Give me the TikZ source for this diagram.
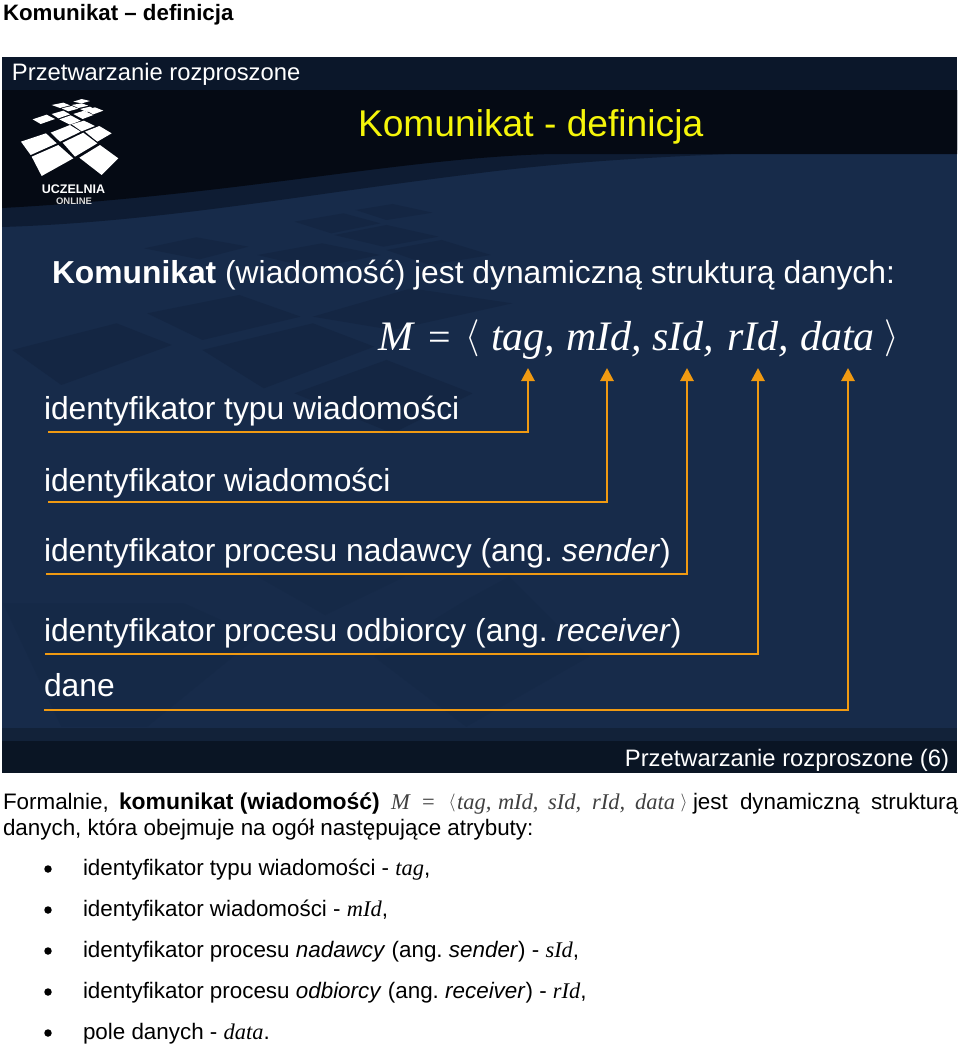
\documentclass[tikz,border=0pt]{standalone}
\usepackage{fontspec}
\setmainfont{Liberation Sans}
\newfontfamily\serifit{Liberation Serif}
\usetikzlibrary{arrows.meta}
\definecolor{slidebg}{HTML}{172B4A}
\definecolor{slidemid}{HTML}{0E1C33}
\definecolor{slidedark}{HTML}{050A14}
\definecolor{slidetop}{HTML}{0B172A}
\definecolor{slidefoot}{HTML}{0A1524}
\definecolor{slidefoott}{HTML}{122239}
\definecolor{tiledark}{HTML}{142643}
\definecolor{tilefaint}{HTML}{152947}
\definecolor{arrowor}{HTML}{F09A12}
\definecolor{ttl}{HTML}{F5F50A}
\tikzset{
  txt/.style={inner sep=0pt,outer sep=0pt,anchor=base west,text=#1},
  txt/.default=black,
  wt/.style={txt=white,font=\frenchspacing\fontsize{#1}{#1}\selectfont},
  bk/.style={txt=black,font=\frenchspacing\fontsize{#1}{#1}\selectfont},
  fm/.style={txt=white,font=\serifit\itshape\fontsize{42}{42}\selectfont},
  sm/.style={txt=black!75,font=\serifit\itshape\fontsize{22.5}{22.5}\selectfont},
  bigbr/.style={inner sep=0pt,outer sep=0pt,anchor=center,text=white,scale=3.7},
  smbr/.style={inner sep=0pt,outer sep=0pt,anchor=center,text=black!75,scale=1.8},
  lnk/.style={draw=arrowor,line width=2.8pt,-{Triangle[width=13pt,length=13pt]}},
  blt/.style={circle,fill=black,inner sep=0pt,minimum size=7.5pt}
}
\begin{document}
\begin{tikzpicture}[x=1pt,y=-1pt]
\useasboundingbox (0,0) rectangle (960,1045);
% slide background
\fill[slidebg] (2,57) rectangle (957,773);
\begin{scope}[shift={(0,140)},x=.6135pt,y=-.3333pt,tiledark]
\fill (480,245)--(560,220)--(620,250)--(540,280)--cycle;
\fill (580,210)--(640,192)--(705,218)--(630,240)--cycle;
\fill (545,285)--(630,255)--(715,290)--(625,320)--cycle;
\fill (235,325)--(320,292)--(405,320)--(325,358)--cycle;
\fill (420,345)--(525,310)--(620,345)--(510,385)--cycle;
\fill (630,330)--(720,300)--(800,345)--(700,375)--cycle;
\fill (240,520)--(390,465)--(490,530)--(330,600)--cycle;
\fill (510,530)--(670,445)--(835,490)--(640,570)--cycle;
\fill (20,630)--(190,550)--(280,615)--(100,735)--cycle;
\fill (330,630)--(510,550)--(610,620)--(430,745)--cycle;
\fill (480,760)--(630,660)--(770,760)--(640,880)--cycle;
\end{scope}
\begin{scope}[shift={(0,560)},x=.6135pt,y=-.3333pt,tilefaint]
\fill (420,50)--(530,165)--(660,50)--cycle;
\fill (610,290)--(760,500)--(960,290)--(830,50)--(760,120)--cycle;
\fill (5,130)--(100,500)--(240,500)--(420,230)--(300,130)--cycle;
\end{scope}
\fill[slidemid] (2,90) -- (957,90) -- (957,150) .. controls (800,150) and (620,155) .. (480,173) .. controls (300,195) and (160,222) .. (2,227) -- cycle;
\fill[slidedark] (2,90) -- (957,90) -- (957,154) -- (552,154) .. controls (400,158) and (240,195) .. (2,208) -- cycle;
\fill[slidetop] (2,57) rectangle (957,90);
\fill[slidefoott] (2,728) rectangle (957,741);
\fill[slidefoot] (2,741) rectangle (957,773);
% logo
\begin{scope}[shift={(10,90)},x=.3333pt,y=-.3333pt,white]
\fill (33,155)--(108,130)--(140,160)--(62,195)--cycle;
\fill (65,200)--(145,165)--(190,205)--(95,258)--cycle;
\fill (122,128)--(180,105)--(212,125)--(150,155)--cycle;
\fill (158,158)--(220,128)--(262,160)--(195,200)--cycle;
\fill (208,203)--(270,165)--(325,205)--(275,255)--cycle;
\fill (225,125)--(268,108)--(305,130)--(262,155)--cycle;
\fill (68,88)--(110,74)--(135,87)--(92,102)--cycle;
\fill (125,72)--(160,62)--(180,73)--(145,85)--cycle;
\fill (148,88)--(182,76)--(212,92)--(180,104)--cycle;
\fill (185,103)--(222,92)--(255,108)--(215,124)--cycle;
\fill (190,72)--(222,62)--(250,75)--(218,87)--cycle;
\fill (225,60)--(255,52)--(280,62)--(250,73)--cycle;
\fill (125,45)--(160,38)--(180,46)--(150,54)--cycle;
\fill (155,55)--(185,48)--(205,56)--(175,64)--cycle;
\fill (185,45)--(215,40)--(235,47)--(205,54)--cycle;
\fill (210,57)--(240,50)--(255,58)--(230,66)--cycle;
\fill (190,35)--(215,27)--(240,33)--(215,40)--cycle;
\end{scope}
\node[txt=white,anchor=base,font=\bfseries\fontsize{12.5}{12.5}\selectfont] (lgA) at (73.5,193) {UCZELNIA};
\node[txt=white!85!black,anchor=base,font=\bfseries\fontsize{9.5}{9.5}\selectfont] (lgB) at (74,204) {ONLINE};
% page title
\node[bk=22.3,font=\bfseries\fontsize{22.3}{22.3}\selectfont] (pg) at (3,20) {Komunikat – definicja};
% slide text
\node[wt=23.8] (hdr) at (12,80) {Przetwarzanie rozproszone};
\node[txt=ttl,font=\fontsize{37.2}{37.2}\selectfont] (ttl) at (358,136) {Komunikat - definicja};
\node[wt=31.8] (lead) at (52,283) {\textbf{Komunikat} (wiadomość) jest dynamiczną strukturą danych:};
\node[fm] (fM) at (378,350) {M};
\node[fm,font=\serifit\fontsize{40}{40}\selectfont] (fE) at (428,350) {=};
\node[bigbr] (fL) at (473,338.5) {$\langle$};
\node[fm] (fT) at (491,350) {tag,};
\node[fm] (fMi) at (566,350) {mId,};
\node[fm] (fS) at (652,350) {sId,};
\node[fm] (fR) at (727,350) {rId,};
\node[fm] (fD) at (800,350) {data};
\node[bigbr] (fG) at (892,338.5) {$\rangle$};
\node[wt=31.8] (l1) at (44,419) {identyfikator typu wiadomości};
\node[wt=31.8] (l2) at (44,491) {identyfikator wiadomości};
\node[wt=31.8] (l3) at (44,561) {identyfikator procesu nadawcy (ang. \textit{sender})};
\node[wt=31.8] (l4) at (44,641) {identyfikator procesu odbiorcy (ang. \textit{receiver})};
\node[wt=31.8] (l5) at (44,696) {dane};
\node[wt=23.8,anchor=base east] (ftr) at (949,766) {Przetwarzanie rozproszone (6)};
% connectors
\coordinate (s1) at (48,432); \coordinate (t1) at (528,368);
\coordinate (s2) at (48,502); \coordinate (t2) at (607,368);
\coordinate (s3) at (46,574); \coordinate (t3) at (687,368);
\coordinate (s4) at (45,654); \coordinate (t4) at (758,368);
\coordinate (s5) at (44,710); \coordinate (t5) at (848,368);
\draw[lnk] (s1) -| (t1);
\draw[lnk] (s2) -| (t2);
\draw[lnk] (s3) -| (t3);
\draw[lnk] (s4) -| (t4);
\draw[lnk] (s5) -| (t5);
% body text
\node[bk=22.4] (b1) at (3,809) {Formalnie,};
\node[bk=22.9,font=\bfseries\fontsize{22.9}{22.9}\selectfont] (b2) at (119,809) {komunikat (wiadomość)};
\node[sm] (b3) at (391,809) {M};
\node[sm,font=\serifit\fontsize{22.5}{22.5}\selectfont] (b4) at (422,809) {=};
\node[smbr] (b5) at (452,803) {$\langle$};
\node[sm] (b6) at (457,809) {tag,};
\node[sm] (b7) at (498,809) {mId,};
\node[sm] (b8) at (548,809) {sId,};
\node[sm] (b9) at (592,809) {rId,};
\node[sm] (b10) at (635,809) {data};
\node[smbr] (b11) at (684,803) {$\rangle$};
\node[bk=22.4] (b12) at (693,809) {jest};
\node[bk=22.4] (b13) at (740,809) {dynamiczną};
\node[bk=22.4] (b14) at (871,809) {strukturą};
\node[bk=22.4] (b15) at (3,835) {danych, która obejmuje na ogół następujące atrybuty:};
\newcommand{\smv}[1]{{\serifit\itshape #1}}
\node[blt] (d1) at (48,869) {};
\node[blt] (d2) at (48,910) {};
\node[blt] (d3) at (48,951) {};
\node[blt] (d4) at (48,992) {};
\node[blt] (d5) at (48,1033) {};
\node[bk=22.4] (i1) at (83,875) {identyfikator typu wiadomości - \smv{tag},};
\node[bk=22.4] (i2) at (83,916) {identyfikator wiadomości - \smv{mId},};
\node[bk=22.4] (i3) at (83,957) {identyfikator procesu \textit{nadawcy} (ang. \textit{sender}) - \smv{sId},};
\node[bk=22.4] (i4) at (83,998) {identyfikator procesu \textit{odbiorcy} (ang. \textit{receiver}) - \smv{rId},};
\node[bk=22.4] (i5) at (83,1039) {pole danych - \smv{data}.};
\end{tikzpicture}
\end{document}
